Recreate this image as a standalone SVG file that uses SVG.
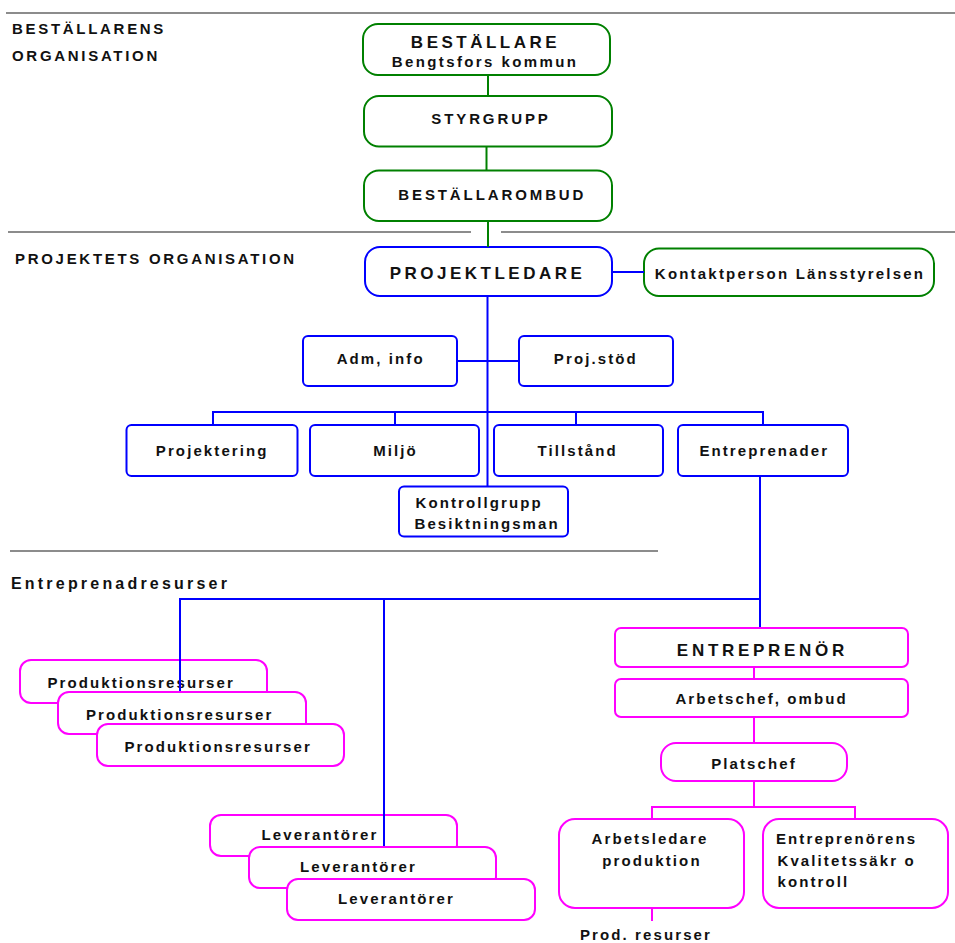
<svg xmlns="http://www.w3.org/2000/svg" width="955" height="943" viewBox="0 0 955 943">
<style>
.bg{fill:#ffffff}
.sep{stroke:#8c8c8c;stroke-width:2;fill:none}
.g{fill:#ffffff;stroke:#008000;stroke-width:2}
.b{fill:#ffffff;stroke:#0000ff;stroke-width:2}
.m{fill:#ffffff;stroke:#ff00ff;stroke-width:2}
.cg{stroke:#008000;stroke-width:2;fill:none}
.cb{stroke:#0000ff;stroke-width:2;fill:none}
.cm{stroke:#ff00ff;stroke-width:2;fill:none}
text{font-family:"Liberation Sans",Arial,sans-serif;font-weight:bold;fill:#111111}
.t{font-size:15px;letter-spacing:2.1px;text-anchor:middle}
.ts{font-size:15px;letter-spacing:2.1px}
.big{font-size:17px;letter-spacing:3.5px;text-anchor:middle}
.h{font-size:15px;letter-spacing:2.7px}
.h2{font-size:16px;letter-spacing:3.2px}
</style>
<rect class="bg" x="0" y="0" width="955" height="943"/>

<g id="separators">
<line class="sep" x1="6" y1="13" x2="955" y2="13"/>
<line class="sep" x1="8" y1="232" x2="471" y2="232"/>
<line class="sep" x1="501" y1="232" x2="955" y2="232"/>
<line class="sep" x1="10" y1="551" x2="658" y2="551"/>
</g>

<g id="section-labels">
<text class="h" x="12" y="34">BESTÄLLARENS</text>
<text class="h" x="12" y="61">ORGANISATION</text>
<text class="h" x="15" y="264">PROJEKTETS ORGANISATION</text>
<text class="h2" x="11" y="589">Entreprenadresurser</text>
</g>

<g id="node-bestallare">
<rect class="g" x="363" y="24" width="247" height="51" rx="15"/>
<text class="big" x="485.5" y="48">BESTÄLLARE</text>
<text class="t" x="485" y="67" style="letter-spacing:2.4px">Bengtsfors kommun</text>
</g>
<g id="node-styrgrupp">
<rect class="g" x="364" y="96" width="248" height="50.5" rx="15"/>
<text class="t" x="491" y="124" style="letter-spacing:2.9px">STYRGRUPP</text>
</g>
<g id="node-bestallarombud">
<rect class="g" x="364" y="170.5" width="248" height="50.5" rx="15"/>
<text class="t" x="492.3" y="200" style="letter-spacing:2.9px">BESTÄLLAROMBUD</text>
</g>
<g id="node-projektledare">
<rect class="b" x="365" y="247" width="247" height="49" rx="15"/>
<text class="big" x="487.5" y="278.5">PROJEKTLEDARE</text>
</g>
<g id="node-kontaktperson">
<rect class="g" x="644" y="248.5" width="290" height="47.5" rx="15"/>
<text class="t" x="790" y="279" style="letter-spacing:2.2px">Kontaktperson Länsstyrelsen</text>
</g>
<g id="node-adm">
<rect class="b" x="303" y="336" width="154" height="50" rx="5"/>
<text class="t" x="380.7" y="364">Adm, info</text>
</g>
<g id="node-projstod">
<rect class="b" x="519" y="336" width="154" height="50" rx="5"/>
<text class="t" x="595.8" y="364">Proj.stöd</text>
</g>
<g id="node-projektering">
<rect class="b" x="126.5" y="425" width="171" height="51" rx="5"/>
<text class="t" x="212.2" y="456">Projektering</text>
</g>
<g id="node-miljo">
<rect class="b" x="310" y="425" width="169" height="51" rx="5"/>
<text class="t" x="395.5" y="456">Miljö</text>
</g>
<g id="node-tillstand">
<rect class="b" x="494" y="425" width="169" height="51" rx="5"/>
<text class="t" x="577.7" y="456">Tillstånd</text>
</g>
<g id="node-entreprenader">
<rect class="b" x="678" y="425" width="170" height="51" rx="5"/>
<text class="t" x="764.3" y="456">Entreprenader</text>
</g>
<g id="node-kontrollgrupp">
<rect class="b" x="399" y="486.5" width="169" height="50" rx="5"/>
<text class="ts" x="415.5" y="507.5">Kontrollgrupp</text>
<text class="ts" x="414.5" y="529">Besiktningsman</text>
</g>

<g id="node-produktionsresurser-1">
<rect class="m" x="20" y="660" width="247" height="43" rx="11"/>
<text class="ts" x="47.5" y="688">Produktionsresurser</text>
</g>
<g id="node-leverantorer-1">
<rect class="m" x="210" y="815" width="247" height="41" rx="11"/>
<text class="ts" x="261.5" y="840">Leverantörer</text>
</g>

<g id="connectors">
<line class="cg" x1="488" y1="75" x2="488" y2="96"/>
<line class="cg" x1="486.5" y1="146.5" x2="486.5" y2="170.5"/>
<line class="cg" x1="488" y1="221" x2="488" y2="247"/>
<line class="cb" x1="612" y1="272" x2="644" y2="272"/>
<line class="cb" x1="487.5" y1="296" x2="487.5" y2="486.5"/>
<line class="cb" x1="457" y1="361" x2="519" y2="361"/>
<polyline class="cb" points="213,425 213,412 763,412 763,425"/>
<line class="cb" x1="395" y1="412" x2="395" y2="425"/>
<line class="cb" x1="576" y1="412" x2="576" y2="425"/>
<line class="cb" x1="760" y1="476" x2="760" y2="628"/>
<polyline class="cb" points="180,692 180,599 760,599"/>
<line class="cb" x1="384" y1="599" x2="384" y2="847"/>
<line class="cm" x1="754" y1="667" x2="754" y2="679"/>
<line class="cm" x1="754" y1="717" x2="754" y2="743"/>
<line class="cm" x1="754" y1="781" x2="754" y2="807"/>
<polyline class="cm" points="652,819 652,807 855,807 855,819"/>
<line class="cm" x1="652" y1="908" x2="652" y2="921"/>
</g>

<g id="node-produktionsresurser-2">
<rect class="m" x="58" y="692" width="248" height="42" rx="11"/>
<text class="ts" x="86" y="720">Produktionsresurser</text>
</g>
<g id="node-produktionsresurser-3">
<rect class="m" x="97" y="724" width="247" height="42" rx="11"/>
<text class="ts" x="124.5" y="752">Produktionsresurser</text>
</g>
<g id="node-leverantorer-2">
<rect class="m" x="249" y="847" width="247" height="41" rx="11"/>
<text class="ts" x="300" y="872">Leverantörer</text>
</g>
<g id="node-leverantorer-3">
<rect class="m" x="287" y="879" width="248" height="41" rx="11"/>
<text class="ts" x="338" y="904">Leverantörer</text>
</g>

<g id="node-entreprenor">
<rect class="m" x="615" y="628" width="293" height="39" rx="6"/>
<text class="big" x="762.4" y="656" style="letter-spacing:3.7px">ENTREPRENÖR</text>
</g>
<g id="node-arbetschef">
<rect class="m" x="615" y="679" width="293" height="38" rx="6"/>
<text class="t" x="761.6" y="703.5">Arbetschef, ombud</text>
</g>
<g id="node-platschef">
<rect class="m" x="661" y="743" width="186" height="38" rx="15"/>
<text class="t" x="754" y="768.5">Platschef</text>
</g>
<g id="node-arbetsledare">
<rect class="m" x="559" y="819" width="185" height="89" rx="16"/>
<text class="t" x="650" y="844">Arbetsledare</text>
<text class="t" x="652" y="866">produktion</text>
</g>
<g id="node-kvalitet">
<rect class="m" x="763" y="819" width="185" height="89" rx="16"/>
<text class="ts" x="776" y="844">Entreprenörens</text>
<text class="ts" x="777.5" y="866">Kvalitetssäkr o</text>
<text class="ts" x="777.5" y="887">kontroll</text>
</g>
<g id="label-prod-resurser">
<text class="t" x="646" y="940">Prod. resurser</text>
</g>
</svg>
